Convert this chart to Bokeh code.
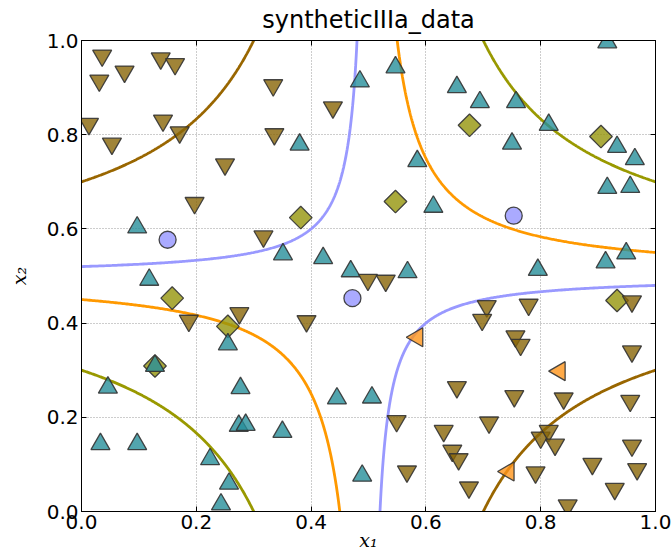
import numpy as np
from bokeh.plotting import figure
from bokeh.models import (Range1d, FixedTicker, PrintfTickFormatter, LinearAxis,
                          CustomLabelingPolicy)
from bokeh.embed import file_html
from bokeh.resources import INLINE

# ---------------- data ----------------
tri_up_x = [0.485, 0.547, 0.654, 0.380, 0.585, 0.916, 0.694, 0.757, 0.814, 0.750,
            0.933, 0.964, 0.916, 0.956, 0.613, 0.097, 0.118, 0.255, 0.351, 0.421,
            0.469, 0.568, 0.795, 0.913, 0.949, 0.128, 0.046, 0.033, 0.097, 0.277,
            0.274, 0.286, 0.224, 0.257, 0.243, 0.350, 0.445, 0.506, 0.489]
tri_up_y = [0.913, 0.943, 0.901, 0.779, 0.744, 0.996, 0.869, 0.869, 0.821, 0.781,
            0.774, 0.748, 0.687, 0.689, 0.647, 0.603, 0.492, 0.355, 0.546, 0.538,
            0.510, 0.508, 0.513, 0.529, 0.548, 0.309, 0.263, 0.143, 0.143, 0.262,
            0.182, 0.184, 0.111, 0.059, 0.015, 0.169, 0.240, 0.242, 0.076]

tri_down_x = [0.036, 0.031, 0.075, 0.138, 0.163, 0.013, 0.053, 0.142, 0.171, 0.250,
              0.197, 0.334, 0.336, 0.438, 0.317, 0.187, 0.275, 0.392, 0.499, 0.530,
              0.706, 0.698, 0.779, 0.756, 0.765, 0.959, 0.959, 0.549, 0.567, 0.654,
              0.631, 0.646, 0.657, 0.675, 0.754, 0.840, 0.956, 0.710, 0.800, 0.814,
              0.825, 0.959, 0.890, 0.968, 0.791, 0.929, 0.847]
tri_down_y = [0.968, 0.915, 0.934, 0.962, 0.950, 0.823, 0.781, 0.830, 0.805, 0.737,
              0.655, 0.905, 0.801, 0.858, 0.584, 0.405, 0.421, 0.404, 0.492, 0.490,
              0.436, 0.407, 0.439, 0.372, 0.354, 0.446, 0.340, 0.192, 0.085, 0.264,
              0.171, 0.129, 0.111, 0.051, 0.245, 0.240, 0.235, 0.189, 0.157, 0.171,
              0.142, 0.140, 0.101, 0.090, 0.083, 0.048, 0.013]

diamond_x = [0.676, 0.905, 0.547, 0.382, 0.158, 0.255, 0.933, 0.128]
diamond_y = [0.820, 0.796, 0.658, 0.624, 0.453, 0.393, 0.448, 0.309]

circle_x = [0.150, 0.472, 0.753]
circle_y = [0.577, 0.453, 0.628]

tri_left_x = [0.585, 0.833, 0.744]
tri_left_y = [0.370, 0.298, 0.085]

# contour levels of (x1-0.5)*(x2-0.5)
levels = [-0.1, -0.01, 0.025, 0.1]
level_colors = ["#996600", "#9999ff", "#ff9900", "#999900"]

ticks = [0.0, 0.2, 0.4, 0.6, 0.8, 1.0]

# ---------------- figure ----------------
p = figure(width=671, height=555, output_backend="svg", toolbar_location=None,
           x_range=Range1d(0, 1), y_range=Range1d(0, 1),
           min_border_left=81, min_border_right=16, min_border_top=38, min_border_bottom=44,
           title="syntheticIIIa_data")
p.background_fill_color = "white"
p.border_fill_color = "white"
p.outline_line_color = "black"
p.outline_line_width = 1
p.outline_line_alpha = 1

p.title.text_font = "DejaVu Sans"
p.title.text_font_size = "24px"
p.title.text_font_style = "normal"
p.title.align = "center"
p.title.text_color = "black"
p.title.standoff = 6

for ax in (p.xaxis[0], p.yaxis[0]):
    ax.ticker = FixedTicker(ticks=ticks)
    ax.formatter = PrintfTickFormatter(format="%.1f")
    ax.major_label_text_font = "DejaVu Sans"
    ax.major_label_text_font_size = "20px"
    ax.major_label_text_color = "black"
    ax.major_tick_in = 5
    ax.major_tick_out = 0
    ax.minor_tick_line_color = None
    ax.axis_line_color = "black"
    ax.major_tick_line_color = "black"
    ax.major_label_standoff = 3
    ax.axis_label_text_font = "DejaVu Serif"
    ax.axis_label_text_font_style = "italic"
    ax.axis_label_text_font_size = "19px"
    ax.axis_label_text_color = "black"

p.xaxis[0].axis_label = "x\u2081"
p.yaxis[0].axis_label = "x\u2082"
p.xaxis[0].axis_label_standoff = -3
p.yaxis[0].axis_label_standoff = 14

hide_all = CustomLabelingPolicy(
    code="for (const i of Array.from(indices)) { indices.unset(i) } return indices;")
for loc in ("above", "right"):
    ax = LinearAxis(ticker=FixedTicker(ticks=ticks), major_label_text_font_size="1px",
                    major_label_policy=hide_all,
                    major_label_standoff=0, axis_label_standoff=0,
                    major_tick_in=5, major_tick_out=0, minor_tick_line_color=None,
                    axis_line_color="black", major_tick_line_color="black")
    p.add_layout(ax, loc)

p.xgrid.ticker = FixedTicker(ticks=ticks)
p.ygrid.ticker = FixedTicker(ticks=ticks)
for g in (p.xgrid[0], p.ygrid[0]):
    g.grid_line_color = "#9a9a9a"
    g.grid_line_dash = "1 2"
    g.grid_line_width = 1

# ---------------- contour curves ----------------
for c, col in zip(levels, level_colors):
    d = 2 * abs(c)
    u = np.geomspace(d, 0.5, 400)
    for sign in (-1, 1):
        xs = 0.5 + sign * u
        ys = 0.5 + c / (xs - 0.5)
        p.line(xs, ys, line_color=col, line_width=2.8)

# ---------------- markers ----------------
edge = dict(line_color="#333333", line_width=1.3, line_alpha=0.9, fill_alpha=0.8)
p.scatter(diamond_x, diamond_y, marker="square", angle=np.pi / 4, size=16,
          fill_color="#95950b", **edge)
p.scatter(circle_x, circle_y, marker="circle", size=17, fill_color="#9595ff", **edge)
p.scatter(tri_up_x, tri_up_y, marker="triangle", size=19, fill_color="#278f9a", **edge)
p.scatter(tri_down_x, tri_down_y, marker="inverted_triangle", size=19,
          fill_color="#886506", **edge)
p.scatter(tri_left_x, tri_left_y, marker="triangle", angle=np.pi / 2, size=19,
          fill_color="#ff951a", **edge)

open("out.html", "w").write(file_html(p, INLINE))
